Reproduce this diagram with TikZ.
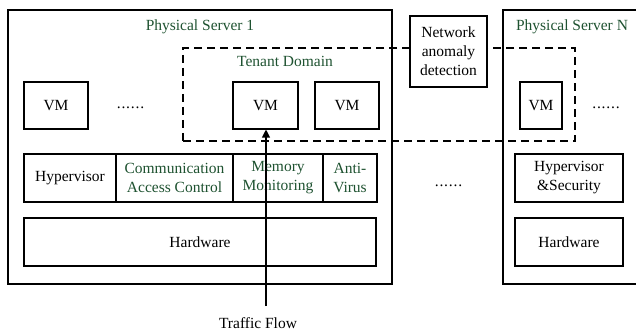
\documentclass[tikz,border=0pt]{standalone}
\usepackage{fontspec}
\setmainfont{Liberation Serif}
\usetikzlibrary{arrows.meta}
\definecolor{labelgreen}{RGB}{30,82,48}
\tikzset{
  box/.style={draw, line width=1.1pt, inner sep=0pt, fill=white,
    font=\fontsize{15.5}{19}\selectfont, align=center},
  server/.style={draw, line width=1.1pt, inner sep=0pt},
  tenant/.style={draw, line width=1.4pt, dash pattern=on 8pt off 5pt, inner sep=0pt},
  glabel/.style={text=labelgreen, inner sep=0pt, font=\fontsize{15.5}{19}\selectfont, align=center},
  plain/.style={inner sep=0pt, font=\fontsize{15.5}{19}\selectfont, align=center},
}
\newcommand{\sixdots}{\makebox[29pt]{.\hfil.\hfil.\hfil.\hfil.\hfil.}}
\begin{document}
\begin{tikzpicture}[x=1pt,y=-1pt]
\useasboundingbox (0,0) rectangle (636,331);
\clip (0,0) rectangle (636,331);

% servers
\node[server, minimum width=384pt, minimum height=274pt] (s1) at (200,147) {};
\node[server, minimum width=142pt, minimum height=274pt] (sn) at (574,147) {};
\node[glabel] (s1lab) at (200,27) {Physical Server 1};
\node[glabel] (snlab) at (572,27) {Physical Server N};

% tenant domain and network monitor
\node[tenant, minimum width=392pt, minimum height=93pt] (td) at (379,94.5) {};
\node[glabel] (tdlab) at (285,61) {Tenant Domain};
\node[box, minimum width=77pt, minimum height=71pt] (nad) at (448.5,51.5) {Network\\anomaly\\detection};

% virtual machines
\node[box, minimum width=64pt, minimum height=47pt] (vm1) at (56,105.5) {VM};
\node[plain] (d1) at (130.5,108) {\sixdots};
\node[box, minimum width=65pt, minimum height=47pt] (vm2) at (265.5,105.5) {VM};
\node[box, minimum width=64pt, minimum height=47pt] (vm3) at (347,105.5) {VM};
\node[box, minimum width=42pt, minimum height=47pt] (vmn) at (541,105.5) {VM};
\node[plain] (dn) at (606,108) {\sixdots};

% hypervisor layer
\node[box, minimum width=92pt, minimum height=48pt] (hyp) at (70,178) {Hypervisor};
\node[box, minimum width=117pt, minimum height=48pt, text=labelgreen] (cac) at (174.5,178) {Communication\\Access Control};
\node[box, minimum width=90pt, minimum height=48pt, text=labelgreen] (mem) at (278,178) {Memory\\Monitoring};
\node[box, minimum width=54pt, minimum height=48pt, text=labelgreen] (av) at (350,178) {Anti-\\Virus};
\node[box, minimum width=108pt, minimum height=48pt] (hs) at (569,178) {Hypervisor\\\&Security};
\node[plain] (dm) at (448.5,186) {\sixdots};

% hardware
\node[box, minimum width=352pt, minimum height=48pt] (hw1) at (200,242) {Hardware};
\node[box, minimum width=108pt, minimum height=48pt] (hwn) at (569,242) {Hardware};

% traffic
\coordinate (tf) at (266,306);
\node[plain] (tflab) at (258,323) {Traffic Flow};
\draw[line width=1.1pt, -{Triangle[width=8pt,length=8pt]}] (tf) -- (tf |- vm2.south);
\end{tikzpicture}
\end{document}
